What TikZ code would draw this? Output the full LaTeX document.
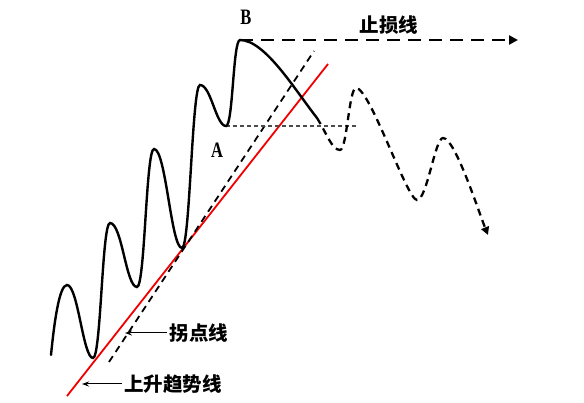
\documentclass[tikz,border=0pt]{standalone}
\usepackage{fontspec}
\setmainfont{Liberation Serif}
\newfontfamily\cjk{Noto Sans CJK SC}
\usetikzlibrary{arrows.meta}
\begin{document}
\begin{tikzpicture}[x=1pt,y=-1pt,
  wave/.style={line width=2.4pt,black,line cap=round},
  wavedash/.style={line width=2.3pt,black,dash pattern=on 7pt off 5pt},
  trend/.style={line width=1.8pt,red!95!black},
  turnline/.style={line width=1.8pt,black,dash pattern=on 7pt off 5pt},
  levelline/.style={line width=1.2pt,black!70,dash pattern=on 4pt off 3pt},
  stopline/.style={line width=2.8pt,black,dash pattern=on 13pt off 8pt},
  lbl/.style={font=\cjk\bfseries\fontsize{19.5}{19.5}\selectfont,inner sep=0pt},
  letter/.style={font=\bfseries\fontsize{22}{22}\selectfont,inner sep=0pt},
  labelarrow/.style={line width=1pt,-{Stealth[length=7pt,width=5pt]}}]
\useasboundingbox (0,0) rectangle (584,403);
% key points
\coordinate (p0) at (51,355);
\coordinate (h1) at (67,285);
\coordinate (t1) at (93,358);
\coordinate (h2) at (110,223);
\coordinate (t2) at (137,287);
\coordinate (h3) at (154,149);
\coordinate (t3) at (182,248);
\coordinate (h4) at (200,85);
\coordinate (tA) at (226,126);
\coordinate (hB) at (240,40);
\coordinate (e1) at (317,118);
\coordinate (d1) at (340,150);
\coordinate (d2) at (356,88);
\coordinate (d3) at (417,200);
\coordinate (d4) at (443,138);
\coordinate (d5) at (488,235);
\coordinate (lvlend) at (358,126);
\coordinate (stopend) at (518,40);
\coordinate (r0) at (67,396);
\coordinate (r1) at (328,64);
\coordinate (k0) at (109,362);
\coordinate (k1) at (314,51);
\coordinate (kt) at (125,333);
\coordinate (rt) at (82,384);
% lines
\draw[trend] (r0) -- (r1);
\draw[turnline] (k0) -- (k1);
\draw[levelline] (tA) -- (lvlend);
\draw[stopline,-{Triangle[length=9pt,width=9pt]}] (hB) -- (stopend);
% solid wave
\draw[wave] (p0) .. controls +(3,-30) and +(-8,0) .. (h1)
  .. controls +(11,0) and +(-10,0) .. (t1)
  .. controls +(8,0) and +(-8,0) .. (h2)
  .. controls +(12,0) and +(-11,0) .. (t2)
  .. controls +(8,0) and +(-8,0) .. (h3)
  .. controls +(12,0) and +(-11,0) .. (t3)
  .. controls +(8,0) and +(-8,0) .. (h4)
  .. controls +(11,0) and +(-10,0) .. (tA)
  .. controls +(7,0) and +(-7,0) .. (hB)
  .. controls +(25,0) and +(-22,-28) .. (e1);
% dashed continuation
\draw[wavedash,-{Triangle[length=8pt,width=8pt]}] (e1)
  .. controls +(10,16) and +(-8,0) .. (d1)
  .. controls +(7,0) and +(-7,0) .. (d2)
  .. controls +(14,0) and +(-10,0) .. (d3)
  .. controls +(10,0) and +(-8,0) .. (d4)
  .. controls +(12,0) and +(-10,-25) .. (d5);
% labels
\node[letter] (B) at (246,17) {\scalebox{0.75}[1]{B}};
\node[letter] (A) at (217,150) {\scalebox{0.75}[1]{A}};
\node[lbl] (zs) at (389,25) {止损线};
\node[lbl] (gd) at (199,333) {拐点线};
\node[lbl] (ss) at (173,384) {上升趋势线};
\draw[labelarrow] (gd.west) ++(-3,0) -- (kt);
\draw[labelarrow] (ss.west) ++(-2,0) -- (rt);
\end{tikzpicture}
\end{document}
